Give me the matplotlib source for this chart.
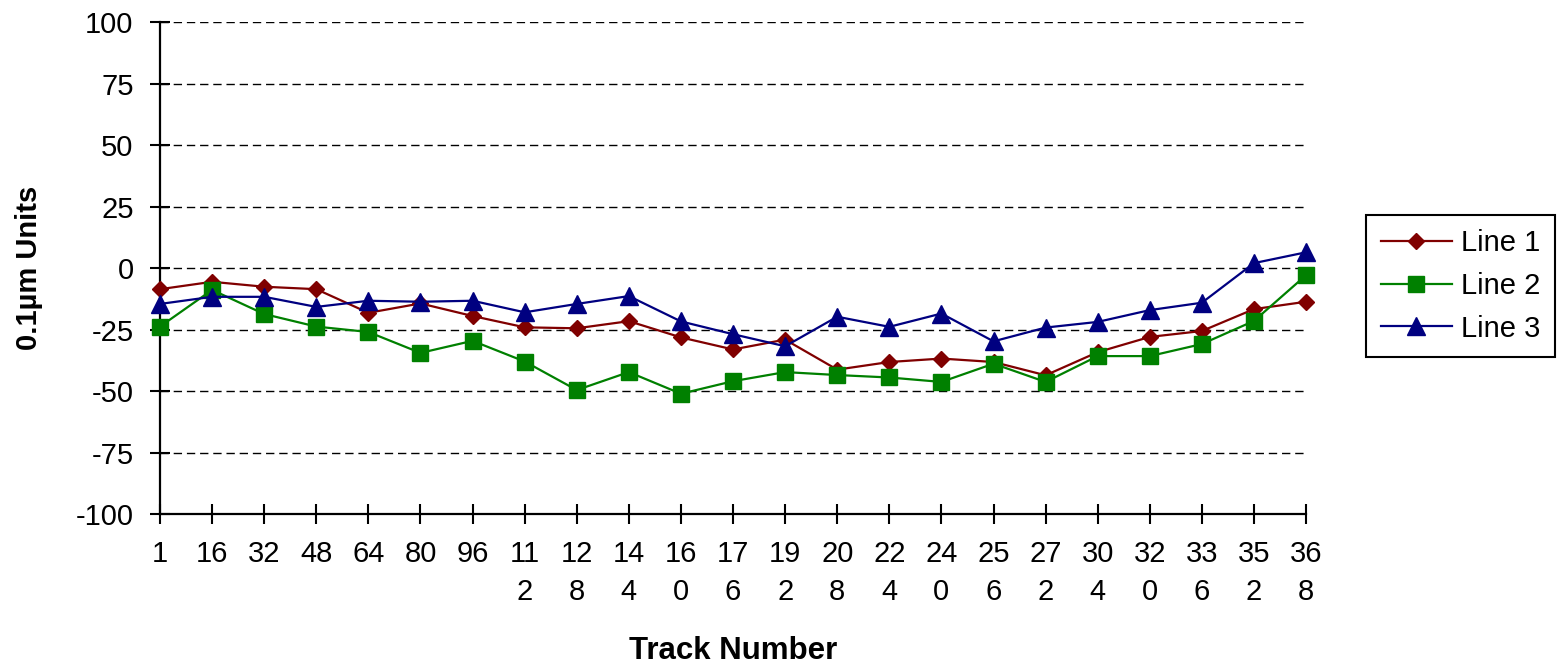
import matplotlib
matplotlib.use("Agg")
import matplotlib.pyplot as plt

plt.rcParams['font.family'] = ['Liberation Sans', 'DejaVu Sans']
plt.rcParams['axes.unicode_minus'] = False

# track numbers along the x axis
tracks = [1, 16, 32, 48, 64, 80, 96, 112, 128, 144, 160, 176, 192, 208,
          224, 240, 256, 272, 304, 320, 336, 352, 368]

# measured offsets in 0.1 um units
line1 = [-8.6, -5.6, -7.6, -8.6, -18.2, -14.4, -19.5, -24.1, -24.5, -21.6, -28.2, -33.1,
         -29.1, -41.3, -38.2, -36.8, -38.2, -43.6, -34.2, -28.0, -25.6, -16.7, -13.7]
line2 = [-23.8, -8.9, -18.7, -23.8, -26.0, -34.5, -29.6, -38.0, -49.6, -42.3, -51.1, -46.0,
         -42.3, -43.5, -44.5, -46.3, -38.9, -46.3, -35.8, -35.8, -30.9, -21.5, -2.9]
line3 = [-14.6, -11.7, -11.7, -15.8, -13.3, -13.7, -13.3, -18.0, -14.6, -11.4, -21.7, -26.9,
         -31.8, -19.8, -23.9, -18.5, -29.8, -24.2, -21.9, -17.1, -14.1, 2.0, 6.4]

series_names = ['Line 1', 'Line 2', 'Line 3']
y_ticks = [-100, -75, -50, -25, 0, 25, 50, 75, 100]

# three-digit labels wrap onto two lines
tick_labels = [str(t) if t < 100 else str(t)[:2] + '\n' + str(t)[2:] for t in tracks]

fig = plt.figure(figsize=(15.58, 6.70), dpi=100)
ax = fig.add_axes([0.1027, 0.2328, 0.7356, 0.7343])

pos = list(range(len(tracks)))
styles = [('#800000', 'D', 8.6), ('#008000', 's', 12), ('#000080', '^', 13)]
for vals, name, (col, mk, ms) in zip([line1, line2, line3], series_names, styles):
    ax.plot(pos, vals, color=col, lw=1.6, marker=mk, markersize=ms,
            markerfacecolor=col, markeredgecolor=col, label=name, clip_on=False, zorder=3)

ax.set_xlim(0, len(tracks) - 1)
ax.set_ylim(-100, 100)
ax.set_xticks(pos)
ax.set_xticklabels(tick_labels, linespacing=1.45)
ax.set_yticks(y_ticks)

for y in y_ticks[1:]:
    ax.axhline(y, color='black', lw=1.0, ls=(0, (6, 3.5)), zorder=1)

for side in ['top', 'right']:
    ax.spines[side].set_visible(False)
for side in ['left', 'bottom']:
    ax.spines[side].set_linewidth(1.6)

ax.tick_params(axis='both', direction='inout', length=14, width=1.5, labelsize=21)
ax.tick_params(axis='x', pad=12)
ax.tick_params(axis='y', pad=12)

ax.set_xlabel('Track Number', fontsize=22.5, fontweight='bold')
ax.xaxis.set_label_coords(0.5, -0.248)
ax.set_ylabel('0.1µm Units', fontsize=21, fontweight='bold', va='center')
ax.yaxis.set_label_coords(-0.114, 0.5)

leg = ax.legend(loc='center left', bbox_to_anchor=(0.8768, 0.5731),
                bbox_transform=fig.transFigure, fontsize=21, frameon=True,
                fancybox=False, edgecolor='black', framealpha=1,
                borderaxespad=0, borderpad=0.5, handlelength=2.45,
                handletextpad=0.3, labelspacing=0.5)
leg.get_frame().set_linewidth(1.5)

plt.savefig('out.png', dpi=100)
